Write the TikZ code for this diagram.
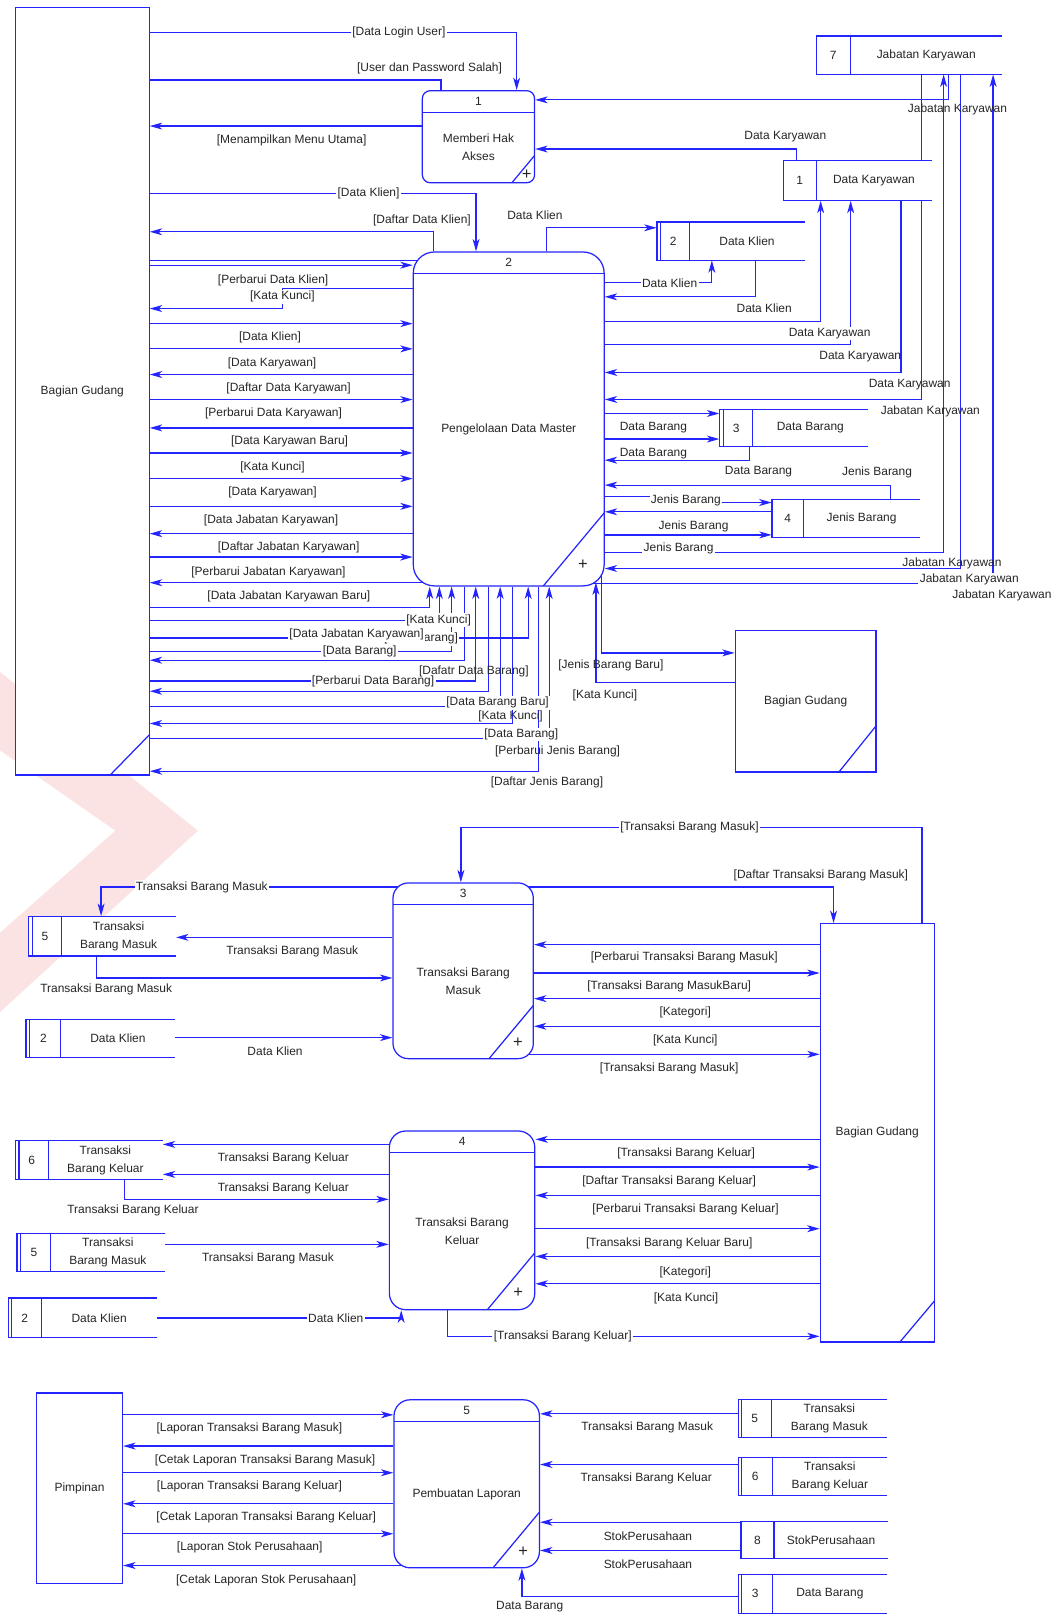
\documentclass[tikz,border=0pt]{standalone}
\usepackage{fontspec}
\setmainfont{Liberation Sans}
\usepackage{tikz}
\usetikzlibrary{arrows.meta,calc,fit}
\definecolor{dfdblue}{HTML}{2424FF}
\definecolor{dfdtext}{HTML}{262626}
\definecolor{wmred}{HTML}{FBE3E3}
\pgfdeclarelayer{bg}
\pgfsetlayers{bg,main}

% data store: name, left x, top y, divider x, right x, bottom y, number, label
\newcommand{\dstore}[8]{%
  \node[storebox, fit={(#2,#3) (#5,#6)}] (#1) {};
  \draw[dfdline] (#5,#3) -- (#2,#3) -- (#2,#6) -- (#5,#6) (#4,#3) -- (#4,#6);
  \node (#1-no) at ($(#2,#3)!0.5!(#4,#6)$) {#7};
  \node[align=center] (#1-tx) at ($(#4,#3)!0.5!(#5,#6)$) {#8};}
% same, with the double left edge
\newcommand{\dstoreb}[8]{%
  \dstore{#1}{#2}{#3}{#4}{#5}{#6}{#7}{#8}
  \draw[dfdline] ($(#2,#3)+(3.5,0)$) -- ($(#2,#6)+(3.5,0)$);}
% process: name, left x, top y, right x, bottom y, number, label, corner cut
\newcommand{\dproc}[8]{%
  \pgfmathsetmacro{\dprocrad}{0.26*#8}
  \node[procbox, rounded corners=\dprocrad pt, fit={(#2,#3) (#4,#5)}] (#1) {};
  \draw[dfdline] (#2,#3+21) -- (#4,#3+21);
  \node (#1-no) at ($(#2,#3)!0.5!(#4,#3)+(0,10.5)$) {#6};
  \node[align=center] (#1-tx) at ($(#2,#3+21)!0.5!(#4,#5)$) {#7};
  \draw[dfdline] (#4-#8,#5) -- (#4,#5-1.2*#8);
  \node[font=\fontsize{12}{12}\selectfont] (#1-pl) at (#4-0.35*#8,#5-0.35*#8) {+};}
% external entity: name, left x, top y, right x, bottom y, label
\newcommand{\dent}[6]{%
  \node[entbox, fit={(#2,#3) (#4,#5)}] (#1) {};
  \node[align=center] (#1-tx) at (#1.center) {#6};}

\begin{document}
\begin{tikzpicture}[x=0.75pt, y=-0.75pt,
    every node/.style={font=\fontsize{8.7}{13}\selectfont, text=dfdtext},
    dfdline/.style={draw=dfdblue, line width=0.9pt},
    flow/.style={dfdline, -{Stealth[length=9pt, width=5pt, inset=2.5pt]}},
    lbl/.style={fill=white, inner sep=1pt},
    lbltr/.style={inner sep=1pt},
    procbox/.style={dfdline, fill=white, inner sep=0pt},
    entbox/.style={dfdline, fill=white, inner sep=0pt},
    storebox/.style={fill=white, inner sep=0pt}]
  \useasboundingbox (0,0) rectangle (1023,1568);

  % external entities
  \dent{gd1}{15}{7}{144.7}{752}{Bagian Gudang}
  \dent{gd2}{713.4}{612.1}{850}{749}{Bagian Gudang}
  \dent{gd3}{795.9}{896.2}{906.5}{1302.2}{Bagian Gudang}
  \dent{pim}{35.4}{1351.7}{118.9}{1536.2}{Pimpinan}
  \draw[dfdline] ($(gd1.south east)+(-39,0)$) -- ($(gd1.south east)+(0,-40)$);
  \draw[dfdline] ($(gd2.south east)+(-37,0)$) -- ($(gd2.south east)+(0,-46)$);
  \draw[dfdline] ($(gd3.south east)+(-34.5,0)$) -- ($(gd3.south east)+(0,-41)$);

  % processes
  \dproc{p1}{409.8}{88}{518.7}{177.3}{1}{Memberi Hak\\Akses}{22}
  \dproc{p2}{401}{244.5}{586.2}{568.5}{2}{Pengelolaan Data Master}{59}
  \dproc{p3}{381.3}{856.7}{517.5}{1027.2}{3}{Transaksi Barang\\Masuk}{43}
  \dproc{p4}{377.8}{1097.4}{518.9}{1270.8}{4}{Transaksi Barang\\Keluar}{46}
  \dproc{p5}{382.3}{1358.2}{523.4}{1521.2}{5}{Pembuatan Laporan}{45}

  % data stores
  \dstore{ds7}{792}{35}{825}{972.5}{72}{7}{Jabatan Karyawan}
  \dstore{ds1}{760}{155.5}{792}{904}{194.5}{1}{Data Karyawan}
  \dstoreb{ds2}{637.4}{215.5}{669}{780.7}{252.4}{2}{Data Klien}
  \dstoreb{ds3}{698.2}{397.3}{730.5}{842}{433.5}{3}{Data Barang}
  \dstore{ds4}{749}{484.7}{779.7}{892.3}{521.5}{4}{Jenis Barang}
  \dstoreb{ds5a}{27.7}{889.1}{59.6}{170.6}{927.6}{5}{Transaksi\\Barang Masuk}
  \dstoreb{ds2b}{25.3}{989.4}{58.9}{169.9}{1026.2}{2}{Data Klien}
  \dstoreb{ds6b}{14.9}{1106.5}{46.8}{157.7}{1144.6}{6}{Transaksi\\Barang Keluar}
  \dstoreb{ds5b}{16.6}{1197}{49.2}{160.1}{1233.6}{5}{Transaksi\\Barang Masuk}
  \dstoreb{ds2c}{8}{1259.5}{39.9}{152.5}{1298}{2}{Data Klien}
  \dstoreb{ds5c}{716.3}{1358.2}{748.3}{861.1}{1395.1}{5}{Transaksi\\Barang Masuk}
  \dstoreb{ds6c}{716.3}{1414.5}{749.3}{861.1}{1451}{6}{Transaksi\\Barang Keluar}
  \dstore{ds8}{718.9}{1476}{751}{861.7}{1512.5}{8}{StokPerusahaan}
  \dstoreb{ds3c}{716.3}{1527.7}{749.3}{861.1}{1565.3}{3}{Data Barang}

  \begin{pgfonlayer}{bg}
  \fill[white] (0,0) rectangle (1023,1568);
  % faint logo behind the diagram
  \fill[wmred] (0,652) -- (192,806) -- (0,982) -- (0,905) -- (112,806) -- (0,728) -- cycle;
  % login
  \draw[flow] (gd1.east |- 0,31.4) -| (p1.north -| 501.3,0);
  \draw[dfdline] (p1.north -| 427.8,0) |- (gd1.east |- 0,77.6);
  \draw[flow] (p1.west |- 0,122.3) -- (gd1.east |- 0,122.3);
  \draw[flow] (ds7.south -| 920.6,0) |- (p1.east |- 0,96.9);
  \draw[flow] (ds1.north -| 773,0) |- (p1.east |- 0,144.6);
  % master data, left side
  \draw[flow] (gd1.east |- 0,187.6) -| (p2.north -| 461.9,0);
  \draw[flow] (p2.north -| 420.5,0) |- (gd1.east |- 0,224.9);
  \draw[dfdline] (gd1.east |- 0,252.4) -- (p2.west |- 0,252.4) -- ++(10,0);
  \draw[flow] (gd1.east |- 0,257.3) -- (p2.west |- 0,257.3);
  \draw[flow] (p2.west |- 0,280) -| (274,299.4) -- (gd1.east |- 0,299.4);
  \draw[flow] (gd1.east |- 0,314) -- (p2.west |- 0,314);
  \draw[flow] (gd1.east |- 0,338.5) -- (p2.west |- 0,338.5);
  \draw[flow] (p2.west |- 0,363.4) -- (gd1.east |- 0,363.4);
  \draw[flow] (gd1.east |- 0,387.7) -- (p2.west |- 0,387.7);
  \draw[flow] (p2.west |- 0,415.2) -- (gd1.east |- 0,415.2);
  \draw[flow] (gd1.east |- 0,439.5) -- (p2.west |- 0,439.5);
  \draw[flow] (gd1.east |- 0,464.4) -- (p2.west |- 0,464.4);
  \draw[flow] (gd1.east |- 0,491.3) -- (p2.west |- 0,491.3);
  \draw[flow] (p2.west |- 0,517.8) -- (gd1.east |- 0,517.8);
  \draw[flow] (gd1.east |- 0,540.5) -- (p2.west |- 0,540.5);
  \draw[flow] (p2.center |- 0,565.4) -- (gd1.east |- 0,565.4);
  % master data, bottom side
  \draw[flow] (gd1.east |- 0,589.8) -| (p2.south -| 417,0);
  \draw[flow] (gd1.east |- 0,601.8) -| (p2.south -| 426.3,0);
  \draw[flow] (gd1.east |- 0,619) -| (p2.south -| 512.5,0);
  \draw[flow] (gd1.east |- 0,631.9) -| (p2.south -| 438.2,0);
  \draw[flow] (p2.south -| 450.5,0) |- (gd1.east |- 0,640.6);
  \draw[flow] (gd1.east |- 0,660.7) -| (p2.south -| 461.6,0);
  \draw[flow] (p2.south -| 474.2,0) |- (gd1.east |- 0,670.7);
  \draw[flow] (gd1.east |- 0,685.2) -| (p2.south -| 485.3,0);
  \draw[flow] (p2.south -| 497.6,0) |- (gd1.east |- 0,702);
  \draw[flow] (gd1.east |- 0,716.6) -| (p2.south -| 532.9,0);
  \draw[flow] (p2.south -| 522.5,0) |- (gd1.east |- 0,748.3);
  \draw[flow] (p2.center -| 583.8,0) |- (gd2.west |- 0,633.5);
  \draw[flow] (gd2.west |- 0,662.3) -| ($(p2.south -| 578.2,0)+(0,-4)$);
  % master data, right side
  \draw[flow] (p2.north -| 530.5,0) |- (ds2.west |- 0,221);
  \draw[flow] (p2.east |- 0,274.4) -| (ds2.south -| 690.7,0);
  \draw[flow] (ds2.south -| 732.8,0) |- (p2.east |- 0,288);
  \draw[flow] (p2.east |- 0,312.2) -| (ds1.south -| 796.3,0);
  \draw[flow] (p2.east |- 0,334.2) -| (ds1.south -| 825.4,0);
  \draw[flow] (ds1.south -| 874.3,0) |- (p2.east |- 0,361.4);
  \draw[flow] (ds7.south -| 894.1,0) |- (p2.east |- 0,387.6);
  \draw[flow] (p2.east |- 0,401.2) -- (ds3.west |- 0,401.2);
  \draw[flow] (p2.east |- 0,426) -- (ds3.west |- 0,426);
  \draw[flow] (ds3.south -| 727.3,0) |- (p2.east |- 0,446.5);
  \draw[flow] (ds4.north -| 863.8,0) |- (p2.east |- 0,470.7);
  \draw[flow] (p2.east |- 0,482) -- (665.5,482) |- (ds4.west |- 0,487.6);
  \draw[flow] (ds4.west |- 0,496.6) -- (p2.east |- 0,496.6);
  \draw[flow] (p2.east |- 0,519) -- (ds4.west |- 0,519);
  \draw[flow] (p2.east |- 0,536.4) -| (ds7.south -| 915.6,0);
  \draw[flow] (ds7.south -| 931.8,0) |- (p2.east |- 0,551.6);
  \draw[flow] (p2.center |- 0,566.2) -| (ds7.south -| 963.6,0);
  % transaksi barang masuk
  \draw[flow] (p3.center |- 0,860.6) -| (ds5a.north -| 98.1,0);
  \draw[flow] (p3.west |- 0,909.5) -- (ds5a.east |- 0,909.5);
  \draw[flow] (ds5a.south -| 93.6,0) |- (p3.west |- 0,948.9);
  \draw[flow] (ds2b.east |- 0,1006.8) -- (p3.west |- 0,1006.8);
  \draw[flow] (gd3.north -| 894.6,0) -- (894.6,803) -| (p3.north -| 447.2,0);
  \draw[flow] (p3.center |- 0,860.6) -| (gd3.north -| 808.8,0);
  \draw[flow] (gd3.west |- 0,916.6) -- (p3.east |- 0,916.6);
  \draw[flow] (p3.east |- 0,944.1) -- (gd3.west |- 0,944.1);
  \draw[flow] (gd3.west |- 0,969) -- (p3.east |- 0,969);
  \draw[flow] (gd3.west |- 0,995.8) -- (p3.east |- 0,995.8);
  \draw[flow] (p3.center |- 0,1023) -- (gd3.west |- 0,1023);
  % transaksi barang keluar
  \draw[flow] (p4.west |- 0,1110.4) -- (ds6b.east |- 0,1110.4);
  \draw[flow] (p4.west |- 0,1139.5) -- (ds6b.east |- 0,1139.5);
  \draw[flow] (ds6b.south -| 120.6,0) |- (p4.west |- 0,1163.7);
  \draw[flow] (ds5b.east |- 0,1207.4) -- (p4.west |- 0,1207.4);
  \draw[flow] (ds2c.east |- 0,1278.9) -| (p4.south -| 389.3,0);
  \draw[flow] (p4.south -| 434,0) |- (gd3.west |- 0,1296.6);
  \draw[flow] (gd3.west |- 0,1105.5) -- (p4.east |- 0,1105.5);
  \draw[flow] (p4.east |- 0,1132.4) -- (gd3.west |- 0,1132.4);
  \draw[flow] (gd3.west |- 0,1159.9) -- (p4.east |- 0,1159.9);
  \draw[flow] (p4.east |- 0,1192.2) -- (gd3.west |- 0,1192.2);
  \draw[flow] (gd3.west |- 0,1219.1) -- (p4.east |- 0,1219.1);
  \draw[flow] (gd3.west |- 0,1245.6) -- (p4.east |- 0,1245.6);
  % laporan
  \draw[flow] (pim.east |- 0,1372.8) -- (p5.west |- 0,1372.8);
  \draw[flow] (p5.west |- 0,1403.1) -- (pim.east |- 0,1403.1);
  \draw[flow] (pim.east |- 0,1429) -- (p5.west |- 0,1429);
  \draw[flow] (p5.west |- 0,1459.1) -- (pim.east |- 0,1459.1);
  \draw[flow] (pim.east |- 0,1488.2) -- (p5.west |- 0,1488.2);
  \draw[flow] (p5.center |- 0,1519) -- (pim.east |- 0,1519);
  \draw[flow] (ds5c.west |- 0,1371.8) -- (p5.east |- 0,1371.8);
  \draw[flow] (ds6c.west |- 0,1421) -- (p5.east |- 0,1421);
  \draw[flow] (ds8.west |- 0,1477) -- (p5.east |- 0,1477);
  \draw[flow] (ds8.west |- 0,1504.4) -- (p5.east |- 0,1504.4);
  \draw[flow] (ds3c.west |- 0,1549) -| (p5.south -| 506.4,0);
  \end{pgfonlayer}

  % labels, top
  \node[lbl] (t1) at (387,31.4) {[Data Login User]};
  \node[lbltr] (t2) at (416.8,66) {[User dan Password Salah]};
  \node[lbltr] (t3) at (283,136.5) {[Menampilkan Menu Utama]};
  \node[lbl] (t4) at (357.6,187.6) {[Data Klien]};
  \node[lbltr] (t5) at (409.4,213.5) {[Daftar Data Klien]};
  \node[lbltr] (t6) at (519,209) {Data Klien};
  \node[lbltr] (t7) at (762,132.7) {Data Karyawan};
  \node[lbltr] (t8) at (929,106) {Jabatan Karyawan};
  % labels, left of p2
  \node[lbl] (l1) at (265,272) {[Perbarui Data Klien]};
  \node[lbl] (l2) at (274,288) {[Kata Kunci]};
  \node[lbltr] (l3) at (262,327.5) {[Data Klien]};
  \node[lbltr] (l4) at (264,352.7) {[Data Karyawan]};
  \node[lbltr] (l5) at (280,377) {[Daftar Data Karyawan]};
  \node[lbltr] (l6) at (265.4,401.3) {[Perbarui Data Karyawan]};
  \node[lbltr] (l7) at (281,428.5) {[Data Karyawan Baru]};
  \node[lbltr] (l8) at (264.4,453.7) {[Kata Kunci]};
  \node[lbltr] (l9) at (264.4,478) {[Data Karyawan]};
  \node[lbltr] (l10) at (263,504.9) {[Data Jabatan Karyawan]};
  \node[lbltr] (l11) at (280,530.8) {[Daftar Jabatan Karyawan]};
  \node[lbltr] (l12) at (260.5,555) {[Perbarui Jabatan Karyawan]};
  \node[lbltr] (l13) at (280.3,579) {[Data Jabatan Karyawan Baru]};
  % labels, below p2
  \node[lbl] (b1) at (425.6,601.8) {[Kata Kunci]};
  \node[lbl] (b2) at (408.5,619.6) {[Data Barang]};
  \node[lbl] (b3) at (346,615.7) {[Data Jabatan Karyawan]};
  \node[lbl] (b4) at (349,631.9) {[Data Barang]};
  \node[lbl] (b5) at (362,660.7) {[Perbarui Data Barang]};
  \node[lbltr] (b6) at (459.8,651) {[Dafatr Data Barang]};
  \node[lbl] (b7) at (482.8,682) {[Data Barang Baru]};
  \node[lbltr] (b8) at (495.4,695.6) {[Kata Kunci]};
  \node[lbl] (b9) at (505.8,712.7) {[Data Barang]};
  \node[lbltr] (b10) at (541,728.9) {[Perbarui Jenis Barang]};
  \node[lbltr] (b11) at (530.7,759.3) {[Daftar Jenis Barang]};
  \node[lbltr] (b12) at (592.7,645.4) {[Jenis Barang Baru]};
  \node[lbltr] (b13) at (587,674.6) {[Kata Kunci]};
  % labels, right of p2
  \node[lbl] (r1) at (649.7,274.4) {Data Klien};
  \node[lbltr] (r2) at (741.5,299.3) {Data Klien};
  \node[lbl] (r3) at (805,323.5) {Data Karyawan};
  \node[lbltr] (r4) at (834.7,346.2) {Data Karyawan};
  \node[lbltr] (r5) at (882.6,373) {Data Karyawan};
  \node[lbltr] (r6) at (902.7,399.6) {Jabatan Karyawan};
  \node[lbltr] (r7) at (634,414.8) {Data Barang};
  \node[lbltr] (r8) at (634,440) {Data Barang};
  \node[lbltr] (r9) at (736,457.8) {Data Barang};
  \node[lbltr] (r10) at (851,458.5) {Jenis Barang};
  \node[lbl] (r11) at (665.5,485.3) {Jenis Barang};
  \node[lbltr] (r12) at (673,510.5) {Jenis Barang};
  \node[lbl] (r13) at (658.4,532.2) {Jenis Barang};
  \node[lbltr] (r14) at (923.7,546.8) {Jabatan Karyawan};
  \node[lbl] (r15) at (940.5,562.3) {Jabatan Karyawan};
  \node[lbl] (r16) at (972.2,577.5) {Jabatan Karyawan};
  % labels, p3
  \node[lbl] (m1) at (195.8,860.6) {Transaksi Barang Masuk};
  \node[lbltr] (m2) at (283.6,923) {Transaksi Barang Masuk};
  \node[lbltr] (m3) at (103,960.2) {Transaksi Barang Masuk};
  \node[lbltr] (m4) at (266.9,1019.8) {Data Klien};
  \node[lbl] (m5) at (669,803) {[Transaksi Barang Masuk]};
  \node[lbltr] (m6) at (796.5,849.3) {[Daftar Transaksi Barang Masuk]};
  \node[lbltr] (m7) at (663.9,929.2) {[Perbarui Transaksi Barang Masuk]};
  \node[lbltr] (m8) at (649.3,957) {[Transaksi Barang MasukBaru]};
  \node[lbltr] (m9) at (664.9,982.6) {[Kategori]};
  \node[lbltr] (m10) at (664.9,1009.4) {[Kata Kunci]};
  \node[lbltr] (m11) at (649.3,1036.9) {[Transaksi Barang Masuk]};
  % labels, p4
  \node[lbltr] (k1) at (274.9,1124.3) {Transaksi Barang Keluar};
  \node[lbltr] (k2) at (274.9,1153.4) {Transaksi Barang Keluar};
  \node[lbltr] (k3) at (129,1174.4) {Transaksi Barang Keluar};
  \node[lbltr] (k4) at (260,1221.3) {Transaksi Barang Masuk};
  \node[lbl] (k5) at (325.8,1278.9) {Data Klien};
  \node[lbl] (k6) at (546,1296.6) {[Transaksi Barang Keluar]};
  \node[lbltr] (k7) at (665.8,1119.4) {[Transaksi Barang Keluar]};
  \node[lbltr] (k8) at (649.3,1146.3) {[Daftar Transaksi Barang Keluar]};
  \node[lbltr] (k9) at (665.2,1173.5) {[Perbarui Transaksi Barang Keluar]};
  \node[lbltr] (k10) at (649.3,1206.8) {[Transaksi Barang Keluar Baru]};
  \node[lbltr] (k11) at (664.9,1234.3) {[Kategori]};
  \node[lbltr] (k12) at (665.6,1260.2) {[Kata Kunci]};
  % labels, p5
  \node[lbltr] (q1) at (242,1385.7) {[Laporan Transaksi Barang Masuk]};
  \node[lbltr] (q2) at (257.2,1417.1) {[Cetak Laporan Transaksi Barang Masuk]};
  \node[lbltr] (q3) at (242,1442.3) {[Laporan Transaksi Barang Keluar]};
  \node[lbltr] (q4) at (258.3,1472.1) {[Cetak Laporan Transaksi Barang Keluar]};
  \node[lbltr] (q5) at (242.3,1501.8) {[Laporan Stok Perusahaan]};
  \node[lbltr] (q6) at (258.3,1533.5) {[Cetak Laporan Stok Perusahaan]};
  \node[lbltr] (q7) at (628,1385.3) {Transaksi Barang Masuk};
  \node[lbltr] (q8) at (627,1434.9) {Transaksi Barang Keluar};
  \node[lbltr] (q9) at (628.7,1490.8) {StokPerusahaan};
  \node[lbltr] (q10) at (628.7,1518) {StokPerusahaan};
  \node[lbltr] (q11) at (514,1559) {Data Barang};
\end{tikzpicture}
\end{document}
